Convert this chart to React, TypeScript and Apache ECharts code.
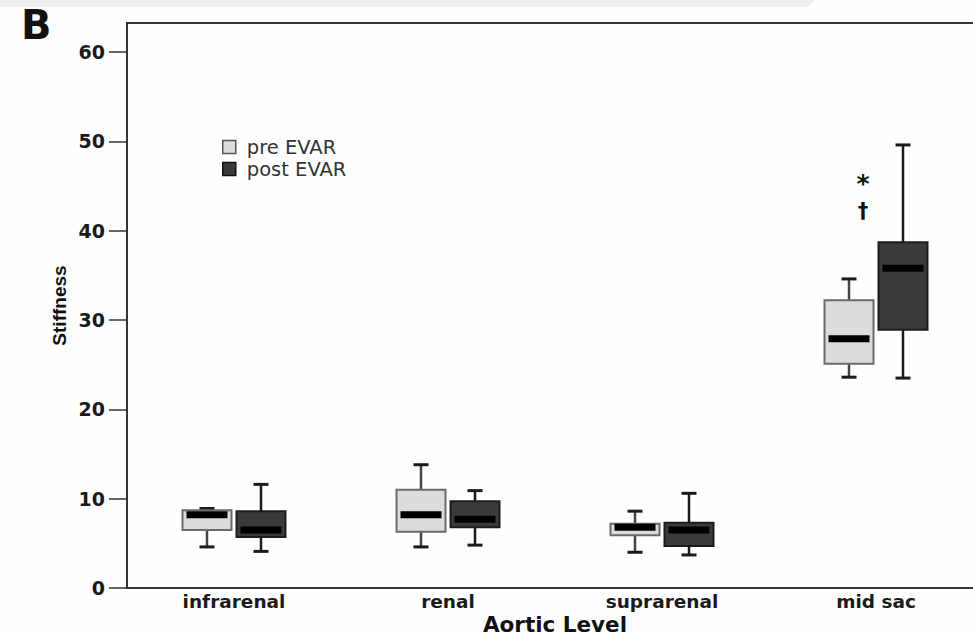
import { useEffect, useRef } from "react";
import * as echarts from "echarts";

const categories = ["infrarenal", "renal", "suprarenal", "mid sac"];
const seriesNames = ["pre EVAR", "post EVAR"];
// [lower whisker, Q1, median, Q3, upper whisker]
const preEVAR = [
  [4.6, 6.5, 8.2, 8.7, 8.9],
  [4.6, 6.3, 8.2, 11.0, 13.8],
  [4.0, 5.9, 6.8, 7.2, 8.6],
  [23.6, 25.1, 27.9, 32.2, 34.6],
];
const postEVAR = [
  [4.1, 5.7, 6.5, 8.6, 11.6],
  [4.8, 6.8, 7.7, 9.7, 10.9],
  [3.7, 4.7, 6.5, 7.3, 10.6],
  [23.5, 28.9, 35.8, 38.7, 49.6],
];
const yTicks = [0, 10, 20, 30, 40, 50, 60];
const yMax = 63.25;

const FONT = '"DejaVu Sans", "Liberation Sans", Arial, sans-serif';

function makeRender(offset: number, fill: string, stroke: string, whisker: string) {
  return (params: any, api: any) => {
    const cat = api.value(0);
    const vals = [1, 2, 3, 4, 5].map((i) => api.value(i));
    const cx = api.coord([cat, 0])[0] + offset;
    const [yMin, yQ1, yMed, yQ3, yMx] = vals.map((v) => api.coord([cat, v])[1]);
    const bw = 49;
    const cap = 15;
    return {
      type: "group",
      children: [
        { type: "line", shape: { x1: cx, y1: yQ3, x2: cx, y2: yMx }, style: { stroke: whisker, lineWidth: 2.5 } },
        { type: "line", shape: { x1: cx, y1: yQ1, x2: cx, y2: yMin }, style: { stroke: whisker, lineWidth: 2.5 } },
        { type: "line", shape: { x1: cx - cap / 2, y1: yMx, x2: cx + cap / 2, y2: yMx }, style: { stroke: "#1a1a1a", lineWidth: 3 } },
        { type: "line", shape: { x1: cx - cap / 2, y1: yMin, x2: cx + cap / 2, y2: yMin }, style: { stroke: "#1a1a1a", lineWidth: 3 } },
        { type: "rect", shape: { x: cx - bw / 2, y: yQ3, width: bw, height: yQ1 - yQ3 }, style: { fill, stroke, lineWidth: 2 } },
        { type: "rect", shape: { x: cx - 20.5, y: yMed - 3.5, width: 41, height: 7 }, style: { fill: "#000" } },
      ],
    };
  };
}

export default function App() {
  const ref = useRef<HTMLDivElement>(null);
  useEffect(() => {
    if (!ref.current) return;
    const chart = echarts.init(ref.current, null, { renderer: "svg" });
    chart.setOption({
      animation: false,
      backgroundColor: "#fefefe",
      textStyle: { fontFamily: FONT },
      grid: {
        left: 127,
        top: 23,
        width: 856,
        height: 565,
        outerBoundsMode: "none",
        show: true,
        borderColor: "#333",
        borderWidth: 2,
      },
      legend: {
        orient: "vertical",
        left: 217,
        top: 132,
        itemWidth: 13,
        itemHeight: 13,
        itemGap: 2,
        icon: "rect",
        textStyle: { fontFamily: FONT, fontSize: 19.5, color: "#333", padding: [0, 0, 0, 6] },
        data: [
          { name: seriesNames[0], itemStyle: { color: "#dcdcdc", borderColor: "#555", borderWidth: 1.5 } },
          { name: seriesNames[1], itemStyle: { color: "#3a3a3a", borderColor: "#111", borderWidth: 1.5 } },
        ],
      },
      xAxis: {
        type: "category",
        data: categories,
        boundaryGap: true,
        axisTick: { show: false },
        axisLine: { show: true, lineStyle: { color: "#333", width: 2 } },
        axisLabel: { margin: 4, fontFamily: FONT, fontSize: 18.5, fontWeight: "bold", color: "#1a1a1a" },
        name: "Aortic Level",
        nameLocation: "middle",
        nameGap: 25,
        nameMoveOverlap: false,
        nameTextStyle: { fontFamily: FONT, fontSize: 21.5, fontWeight: "bold", color: "#111" },
      },
      yAxis: {
        type: "value",
        min: 0,
        max: yMax,
        splitLine: { show: false },
        axisLine: { show: true, lineStyle: { color: "#333", width: 2 } },
        axisTick: { show: true, length: 18, customValues: yTicks, lineStyle: { color: "#333", width: 1.5 } },
        axisLabel: {
          customValues: yTicks,
          margin: 22,
          fontFamily: FONT,
          fontSize: 19,
          fontWeight: "bold",
          color: "#1a1a1a",
        },
        name: "Stiffness",
        nameLocation: "middle",
        nameRotate: 90,
        nameGap: 58,
        nameMoveOverlap: false,
        nameTextStyle: { fontFamily: '"Liberation Sans", Arial, sans-serif', fontSize: 19, fontWeight: "bold", color: "#111" },
      },
      series: [
        {
          name: seriesNames[0],
          type: "custom",
          itemStyle: { color: "#dcdcdc", borderColor: "#555" },
          encode: { x: 0, y: [1, 2, 3, 4, 5] },
          data: preEVAR.map((d, i) => [i, ...d]),
          renderItem: makeRender(-27, "#dcdcdc", "#6a6a6a", "#444"),
        },
        {
          name: seriesNames[1],
          type: "custom",
          itemStyle: { color: "#3a3a3a", borderColor: "#111" },
          encode: { x: 0, y: [1, 2, 3, 4, 5] },
          data: postEVAR.map((d, i) => [i, ...d]),
          renderItem: makeRender(27, "#3a3a3a", "#1c1c1c", "#1a1a1a"),
        },
      ],
      graphic: [
        {
          type: "polygon",
          z: -1,
          shape: { points: [[0, 0], [815, 0], [808, 7], [0, 7]] },
          style: { fill: "#efefef" },
        },
        {
          type: "text",
          left: 21,
          top: 5,
          style: { text: "B", font: `bold 40px ${FONT}`, fill: "#111" },
        },
        {
          type: "text",
          x: 863,
          y: 171,
          style: { text: "*", font: `bold 25px ${FONT}`, fill: "#111", textAlign: "center", textVerticalAlign: "top" },
        },
        {
          type: "text",
          x: 863,
          y: 200,
          style: { text: "†", font: `bold 21px ${FONT}`, fill: "#111", textAlign: "center", textVerticalAlign: "top" },
        },
      ],
    });
    return () => chart.dispose();
  }, []);
  return (
    <div style={{ position: "absolute", left: 0, top: 0, width: 973, height: 636, overflow: "hidden" }}>
      <div ref={ref} style={{ width: 1000, height: 636 }} />
    </div>
  );
}
